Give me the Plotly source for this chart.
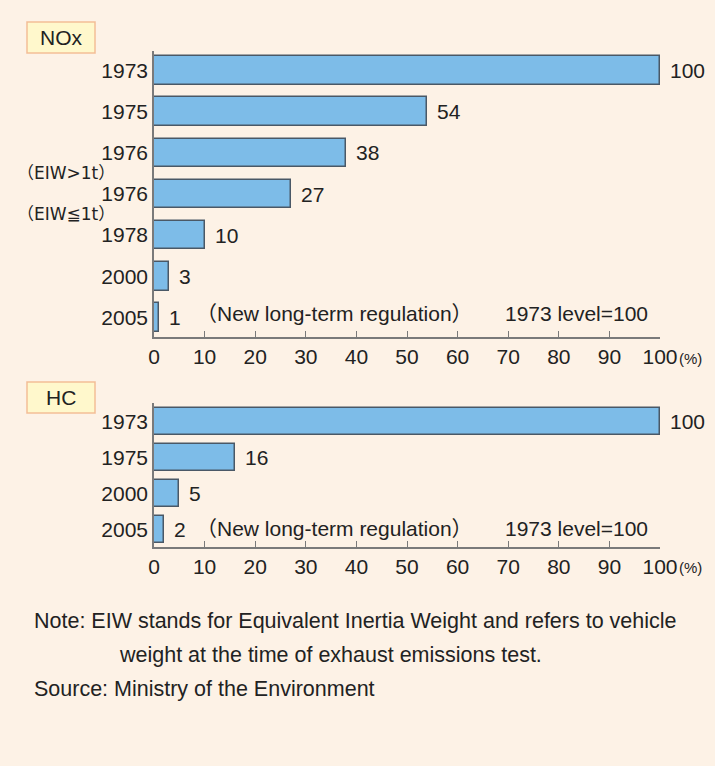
import plotly.graph_objects as go

# NOx, 1973 level = 100
nox_years = ["1973", "1975", "1976", "1976", "1978", "2000", "2005"]
nox_notes = ["", "", "（EIW>1t）", "（EIW≦1t）", "", "", ""]
nox_values = [100, 54, 38, 27, 10, 3, 1]

# HC, 1973 level = 100
hc_years = ["1973", "1975", "2000", "2005"]
hc_values = [100, 16, 5, 2]

x_ticks = [0, 10, 20, 30, 40, 50, 60, 70, 80, 90, 100]

W, H = 715, 766
bg = "#FDF2E6"
bar_col = "#7DBCE8"
bar_line = "#4A5866"
ax_col = "#7A7A7A"
txt = "#222222"
font = "Liberation Sans, Arial, Noto Sans CJK JP, sans-serif"
fs = 21

def px_x(p):
    return p / W

def px_y(p):
    return 1 - p / H

fig = go.Figure()

fig.add_trace(go.Bar(
    x=nox_values, y=list(range(len(nox_years))), orientation="h",
    width=0.7, marker=dict(color=bar_col, line=dict(color=bar_line, width=1.5)),
    xaxis="x", yaxis="y", showlegend=False, hoverinfo="skip"))

fig.add_trace(go.Bar(
    x=hc_values, y=list(range(len(hc_years))), orientation="h",
    width=0.75, marker=dict(color=bar_col, line=dict(color=bar_line, width=1.5)),
    xaxis="x2", yaxis="y2", showlegend=False, hoverinfo="skip"))

xcommon = dict(range=[0, 100], tickvals=x_ticks, ticktext=[str(t) for t in x_ticks],
               ticks="inside", ticklen=6, tickcolor=ax_col, showline=True,
               linecolor=ax_col, linewidth=1.5, showgrid=False, zeroline=False,
               automargin=False,
               tickfont=dict(size=fs, color=txt, family=font), fixedrange=True)
ycommon = dict(showline=True, linecolor=ax_col, linewidth=1.5, showgrid=False,
               zeroline=False, ticks="", automargin=False,
               tickfont=dict(size=fs, color=txt, family=font), fixedrange=True)

fig.update_layout(
    width=W, height=H,
    margin=dict(l=0, r=0, t=0, b=0),
    paper_bgcolor=bg, plot_bgcolor=bg,
    bargap=0,
    xaxis=dict(domain=[px_x(154), px_x(660)], anchor="y", **xcommon),
    yaxis=dict(domain=[px_y(337), px_y(51)], anchor="x",
               range=[len(nox_years) - 0.52, -0.48],
               tickvals=list(range(len(nox_years))), ticktext=nox_years, **ycommon),
    xaxis2=dict(domain=[px_x(154), px_x(660)], anchor="y2", **xcommon),
    yaxis2=dict(domain=[px_y(547), px_y(403)], anchor="x2",
                range=[len(hc_years) - 0.52, -0.51],
                tickvals=list(range(len(hc_years))), ticktext=hc_years, **ycommon),
)

ann = []
# value labels
for i, v in enumerate(nox_values):
    ann.append(dict(x=v, y=i, xref="x", yref="y", text=str(v), showarrow=False,
                    xanchor="left", yanchor="middle", xshift=8,
                    font=dict(size=fs, color=txt, family=font)))
for i, v in enumerate(hc_values):
    ann.append(dict(x=v, y=i, xref="x2", yref="y2", text=str(v), showarrow=False,
                    xanchor="left", yanchor="middle", xshift=8,
                    font=dict(size=fs, color=txt, family=font)))
# EIW sub-labels
for i, n in enumerate(nox_notes):
    if n:
        ann.append(dict(x=px_x(117), y=i, xref="paper", yref="y", text=n, showarrow=False,
                        xanchor="right", yanchor="middle", yshift=-20,
                        font=dict(size=17, color=txt,
                                  family="DejaVu Sans, Noto Sans CJK JP, sans-serif")))

for yp in [358, 567]:
    ann.append(dict(x=px_x(677), y=px_y(yp), xref="paper", yref="paper", text="(%)",
                    showarrow=False, xanchor="left", yanchor="middle",
                    font=dict(size=15, color=txt, family=font)))

for yp in [314, 528]:
    ann.append(dict(x=px_x(194), y=px_y(yp), xref="paper", yref="paper",
                    text="（New long-term regulation）", showarrow=False,
                    xanchor="left", yanchor="middle",
                    font=dict(size=fs, color=txt, family=font)))
    ann.append(dict(x=px_x(503), y=px_y(yp), xref="paper", yref="paper",
                    text="1973 level=100", showarrow=False,
                    xanchor="left", yanchor="middle",
                    font=dict(size=fs, color=txt, family=font)))

# panel labels
shapes = []
for label, top in [("NOx", 22), ("HC", 382)]:
    shapes.append(dict(type="rect", xref="paper", yref="paper",
                       x0=px_x(27), x1=px_x(95), y0=px_y(top + 31), y1=px_y(top),
                       fillcolor="#FFF8CC", line=dict(color="#F3BE96", width=1.5)))
    ann.append(dict(x=px_x(61), y=px_y(top + 15.5), xref="paper", yref="paper",
                    text=label, showarrow=False, xanchor="center", yanchor="middle",
                    font=dict(size=fs, color=txt, family=font)))

# notes
notes = [(32, 621, "Note: EIW stands for Equivalent Inertia Weight and refers to vehicle"),
         (117, 655, "weight at the time of exhaust emissions test."),
         (32, 689, "Source: Ministry of the Environment")]
for xp, yp, t in notes:
    ann.append(dict(x=px_x(xp), y=px_y(yp), xref="paper", yref="paper", text=t,
                    showarrow=False, xanchor="left", yanchor="middle",
                    font=dict(size=21.5, color=txt, family=font)))

fig.update_layout(annotations=ann, shapes=shapes)

fig.write_html("out.html", config={"displayModeBar": False},
               post_script="document.body.style.margin='0';")
